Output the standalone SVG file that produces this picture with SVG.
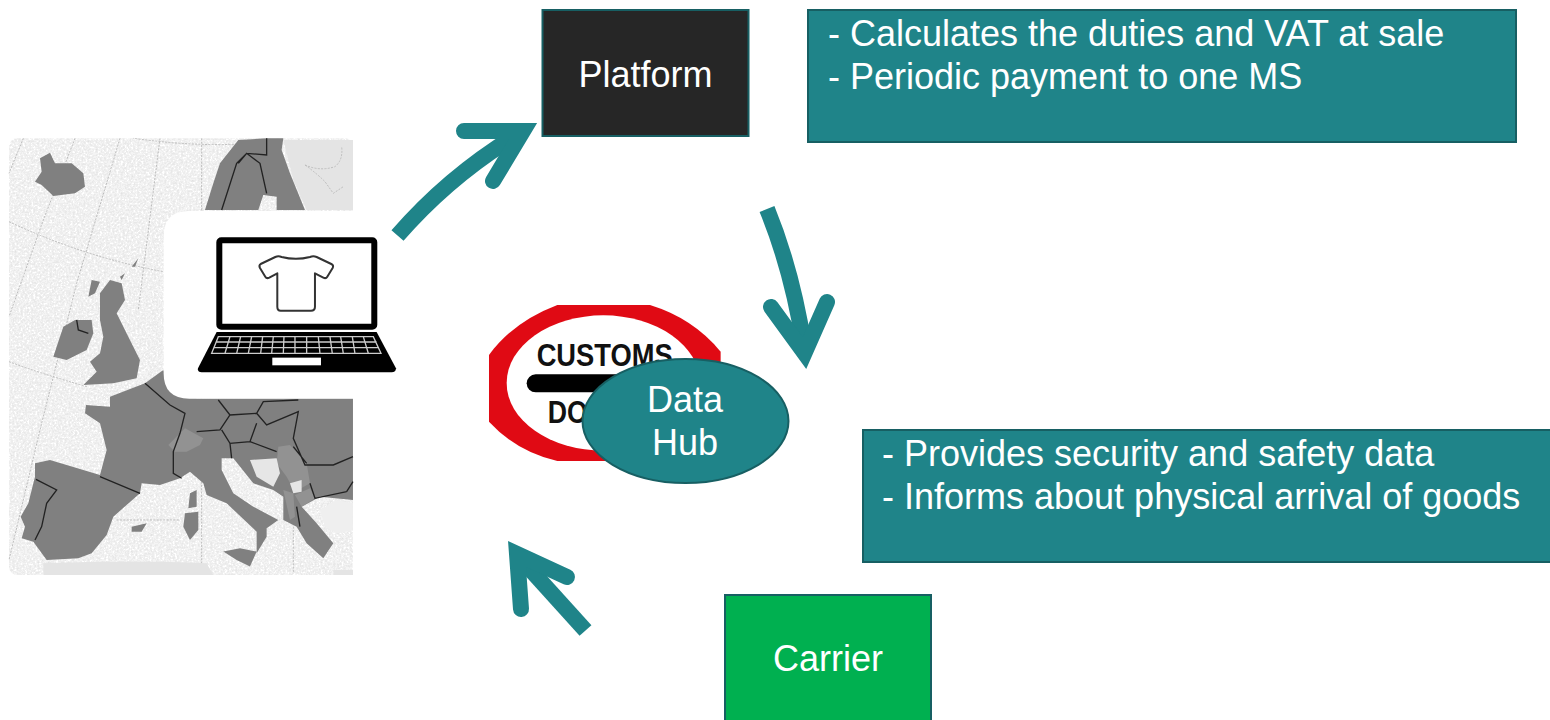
<svg xmlns="http://www.w3.org/2000/svg" width="1550" height="720" viewBox="0 0 1550 720">
<style>
text{font-family:"Liberation Sans",Arial,sans-serif;fill:#fff;font-size:36px}
.mid{text-anchor:middle}
.box{fill:#1f8489;stroke:#175f63;stroke-width:2}
.shaft{fill:none;stroke:#1f8489;stroke-width:16}
.head{fill:none;stroke:#1f8489;stroke-width:16;stroke-linecap:round;stroke-linejoin:miter;stroke-miterlimit:8}
.land{fill:#808080;stroke:none}
.border{fill:none;stroke:#222;stroke-width:4}
.grid{fill:none;stroke:#bdbdbd;stroke-width:3;stroke-dasharray:6 4}
.sign{fill:#111;font-size:92px;font-weight:700}
</style>
<defs>
<filter id="speckle" x="0" y="0" width="100%" height="100%" color-interpolation-filters="sRGB">
<feTurbulence type="fractalNoise" baseFrequency="0.16" numOctaves="2" seed="4"/>
<feColorMatrix values="1 0 0 0 0 1 0 0 0 0 1 0 0 0 0 0 0 0 0 1"/>
<feComponentTransfer><feFuncR type="discrete" tableValues="0.89 0.91 0.93 0.96 1 1"/><feFuncG type="discrete" tableValues="0.89 0.91 0.93 0.96 1 1"/><feFuncB type="discrete" tableValues="0.89 0.91 0.93 0.96 1 1"/></feComponentTransfer>
<feComposite in2="SourceAlpha" operator="in"/>
</filter>
</defs>
<rect width="1550" height="720" fill="#fff"/>
<g id="map" transform="translate(0,130) scale(0.3333)">
<rect x="27" y="25" width="1032" height="1310" rx="24" fill="#efefef" filter="url(#speckle)"/>
<path class="grid" d="M70 25L27 130M225 25L130 270L27 560M360 25L230 460L120 900L27 1290M480 25L415 540M605 25V1335M27 275Q250 380 490 425M27 695Q120 730 260 770M850 30Q650 60 400 25M350 1170H540M880 1090V1330"/>
<path d="M850 30H1059V240H920L880 150ZM895 810H1059V900L980 850ZM130 1300Q400 1290 620 1300L640 1335H130ZM1000 1320H1059V1335H1000Z" fill="#e4e4e4"/>
<path d="M915 105Q960 125 1005 110Q1030 90 1025 50" class="grid"/>
<path d="M915 105Q950 130 975 155L1000 190L1030 170" class="grid"/>
<path class="land" d="M120 85L150 68L165 100L215 100L250 130L255 170L225 190L160 198L125 165L105 155L125 125Z"/>
<path class="land" d="M715 30L800 25L850 25L845 60L870 130L915 240L830 240L830 200L790 195L775 240H615L640 160L660 100Z"/>
<path class="land" d="M300 490L330 450L365 460L375 510L350 550L385 620L420 690L410 745L340 760L250 765L290 725L270 695L300 670L310 620L300 570Z"/>
<path class="land" d="M225 570L275 570L280 610L260 660L200 690L160 680L190 590Z"/>
<path class="land" d="M275 450L300 455L285 490L265 500ZM360 440L375 430L365 450ZM395 410L415 385L405 410Z"/>
<path class="land" d="M490 720L510 770L590 805H1059V1110L960 1100L905 1130L950 1180L1000 1240L970 1285L920 1240L890 1190L850 1170L850 1100L820 1080L760 1060L700 985L665 985L665 1020L700 1090L760 1130L835 1170L800 1195L800 1220L770 1270L770 1205L680 1120L620 1095L610 1060L570 1025L540 1045L480 1065L425 1060L420 1090L340 1160L320 1215L275 1270L235 1285L140 1290L100 1235L65 1225L75 1190L62 1160L85 1120L105 1040L105 1000L150 990L300 1035L320 960L300 880L255 850L258 825L330 830L330 800L435 760Z"/>
<path class="land" d="M670 1265L720 1255L770 1265L750 1310L710 1290Z M570 1090L590 1080L590 1130L565 1135ZM555 1150L595 1145L595 1200L570 1230L550 1190ZM395 1190L440 1180L425 1205L395 1205Z"/>
<path d="M505 945L555 895L610 925L600 945L560 965L525 965Z M835 950L870 945L920 1000L930 1060L885 1085L860 1040L830 1000Z M885 1095L930 1075L945 1105L905 1130ZM850 1080L880 1090L885 1160L870 1170Z" fill="#929292"/>
<path d="M750 990L830 985L840 1030L820 1070L770 1040ZM870 1060L905 1050L905 1085L880 1090Z" fill="#e6e6e6"/>
<path d="M960 1140L1010 1110L1059 1120V1200L1010 1210L975 1190Z" fill="#efefef"/>
<path class="border" d="M108 1048L170 1080L140 1120L125 1190L105 1230M300 1040L420 1090M435 760L510 825L555 850L540 910L520 965L520 1030L545 1045M590 905L660 900L690 855L770 850L790 815L895 810M770 850L800 885L895 845L880 925L915 1005L1000 1005L1059 980M665 900L690 940L750 935L770 880M690 940L695 985M750 935L830 965M880 950L920 1000M930 1060L945 1105L1040 1085M890 1130L900 1190M655 810L690 855M230 570L235 600L265 610M1040 1085L1059 1055M715 100L740 70L780 100L800 190M800 25L800 75L740 70L710 100L665 240"/>
</g>
<g id="laptop" transform="translate(0,130) scale(0.3333)">
<path d="M491 320Q491 243 568 243H1060V806H568Q491 806 491 730Z" fill="#fff"/>
<rect x="1059" y="243" width="221" height="563" fill="#fff"/>
<rect x="658" y="331" width="465" height="259" rx="6" fill="#fff" stroke="#000" stroke-width="18"/>
<path d="M782 402L826 381Q835 377 845 381Q888 392 930 381Q940 377 950 381L994 402Q1002 406 998 414L982 440Q978 447 970 443L945 430V530Q945 542 933 542H842Q832 542 832 530V430L808 443Q800 447 796 440L780 414Q776 406 782 402Z" fill="#fff" stroke="#333" stroke-width="6" stroke-linejoin="round"/>
<path d="M650 606H1130L1188 715Q1188 727 1175 727H605Q592 727 594 715Z" fill="#000"/>
<path d="M655 620H1120L1143 670H635ZM648 636H1130M640 653H1137M690 620L675 670M722 620L710 670M755 620L745 670M788 620L782 670M820 620L815 670M852 620L850 670M885 620V670M920 620V670M955 620L960 670M990 620L997 670M1022 620L1030 670M1057 620L1065 670M1090 620L1105 670" fill="none" stroke="#ccc" stroke-width="4"/>
<rect x="817" y="683" width="146" height="23" fill="#fff"/>
</g>
<g id="customs" transform="translate(480,295) scale(0.3333)">
<path d="M232 30H510Q640 70 722 170V200L640 420L510 498H232Q110 470 27 380V180Q100 80 232 30Z" fill="#e00a14"/>
<ellipse cx="370" cy="264" rx="290" ry="203" fill="#fff"/>
<text x="170" y="212" class="sign" textLength="408" lengthAdjust="spacingAndGlyphs">CUSTOMS</text>
<rect x="140" y="238" width="300" height="54" rx="27" fill="#000"/>
<text x="203" y="384" class="sign" textLength="120" lengthAdjust="spacingAndGlyphs">DO</text>
</g>
<g id="connectors">
<path class="shaft" d="M397.500 235.500Q450 175 520 133"/>
<path class="head" d="M464 131L523 131L493 181"/>
<path class="shaft" d="M767 209Q792 270 804 346"/>
<path class="head" d="M771 307L804.500 353L827 302"/>
<path class="shaft" d="M585.500 630.500L519 557"/>
<path class="head" d="M521 609L517 554L567 577"/>
</g>
<g id="platform">
<rect x="542.500" y="10" width="206" height="126" fill="#262626" stroke="#175f63" stroke-width="2"/>
<text class="mid" x="645.500" y="87">Platform</text>
</g>
<g id="note-platform">
<rect class="box" x="808" y="10" width="708" height="132"/>
<text x="828" y="46">- Calculates the duties and VAT at sale</text>
<text x="828" y="89">- Periodic payment to one MS</text>
</g>
<g id="data-hub">
<ellipse class="box" cx="685.500" cy="421" rx="103" ry="62"/>
<text class="mid" x="685" y="412">Data</text>
<text class="mid" x="685" y="455">Hub</text>
</g>
<g id="note-carrier">
<rect class="box" x="863" y="430" width="700" height="132"/>
<text x="882" y="466">- Provides security and safety data</text>
<text x="882" y="509">- Informs about physical arrival of goods</text>
</g>
<g id="carrier">
<rect x="725" y="595" width="206" height="140" fill="#00b050" stroke="#175f63" stroke-width="2"/>
<text class="mid" x="828" y="671">Carrier</text>
</g>
</svg>
